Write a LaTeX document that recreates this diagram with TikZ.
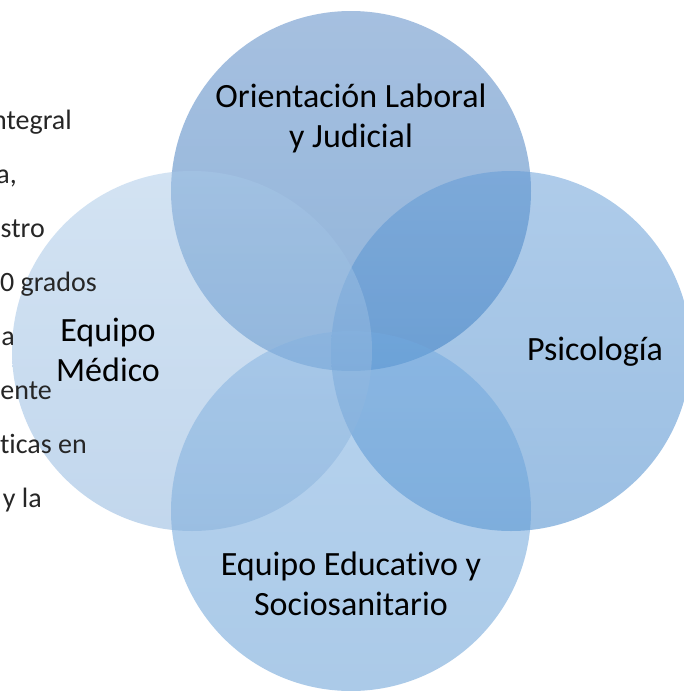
\documentclass[tikz,border=0pt]{standalone}
\usepackage{fontspec}
\setmainfont{Carlito}[Ligatures={NoCommon}]
\usepackage{tikz}

\definecolor{topA}{RGB}{77,129,193}
\definecolor{topB}{RGB}{33,105,181}
\definecolor{rightA}{RGB}{95,153,213}
\definecolor{rightB}{RGB}{55,127,199}
\definecolor{botA}{RGB}{113,169,223}
\definecolor{botB}{RGB}{87,149,209}
\definecolor{leftA}{RGB}{167,199,231}
\definecolor{leftB}{RGB}{133,175,219}

\begin{document}
\begin{tikzpicture}[x=1pt,y=-1pt,
    venn/.style={fill opacity=0.5},
    body/.style={anchor=base east,inner sep=0pt,text=black!85,font=\fontsize{28}{34}\selectfont},
    venntext/.style={align=center,inner sep=0pt,font=\fontsize{34}{40}\selectfont}]
    \useasboundingbox (0,0) rectangle (684,691);
    \clip (0,0) rectangle (684,691);

    \shade[venn,top color=topA,bottom color=topB] (351,191) circle (180);
    \shade[venn,top color=rightA,bottom color=rightB] (511,351) circle (180);
    \shade[venn,top color=botA,bottom color=botB] (351,511) circle (180);
    \shade[venn,top color=leftA,bottom color=leftB] (192,351) circle (180);

    \node[body] (t1) at (72,129) {ntegral};
    \node[body] (t2) at (17,183) {a,};
    \node[body] (t3) at (45,237) {stro};
    \node[body] (t4) at (97,291) {0 grados};
    \node[body] (t5) at (15,345) {a};
    \node[body] (t6) at (52,399) {ente};
    \node[body] (t7) at (87,453) {ticas en};
    \node[body] (t8) at (42,507) {y la};

    \node[venntext] (olj) at (351,118) {Orientación Laboral\\y Judicial};
    \node[venntext] (med) at (108,350) {Equipo\\Médico};
    \node[venntext,anchor=base] (psi) at (595,360) {Psicología};
    \node[venntext] (ees) at (351,584) {Equipo Educativo y\\Sociosanitario};
\end{tikzpicture}
\end{document}
